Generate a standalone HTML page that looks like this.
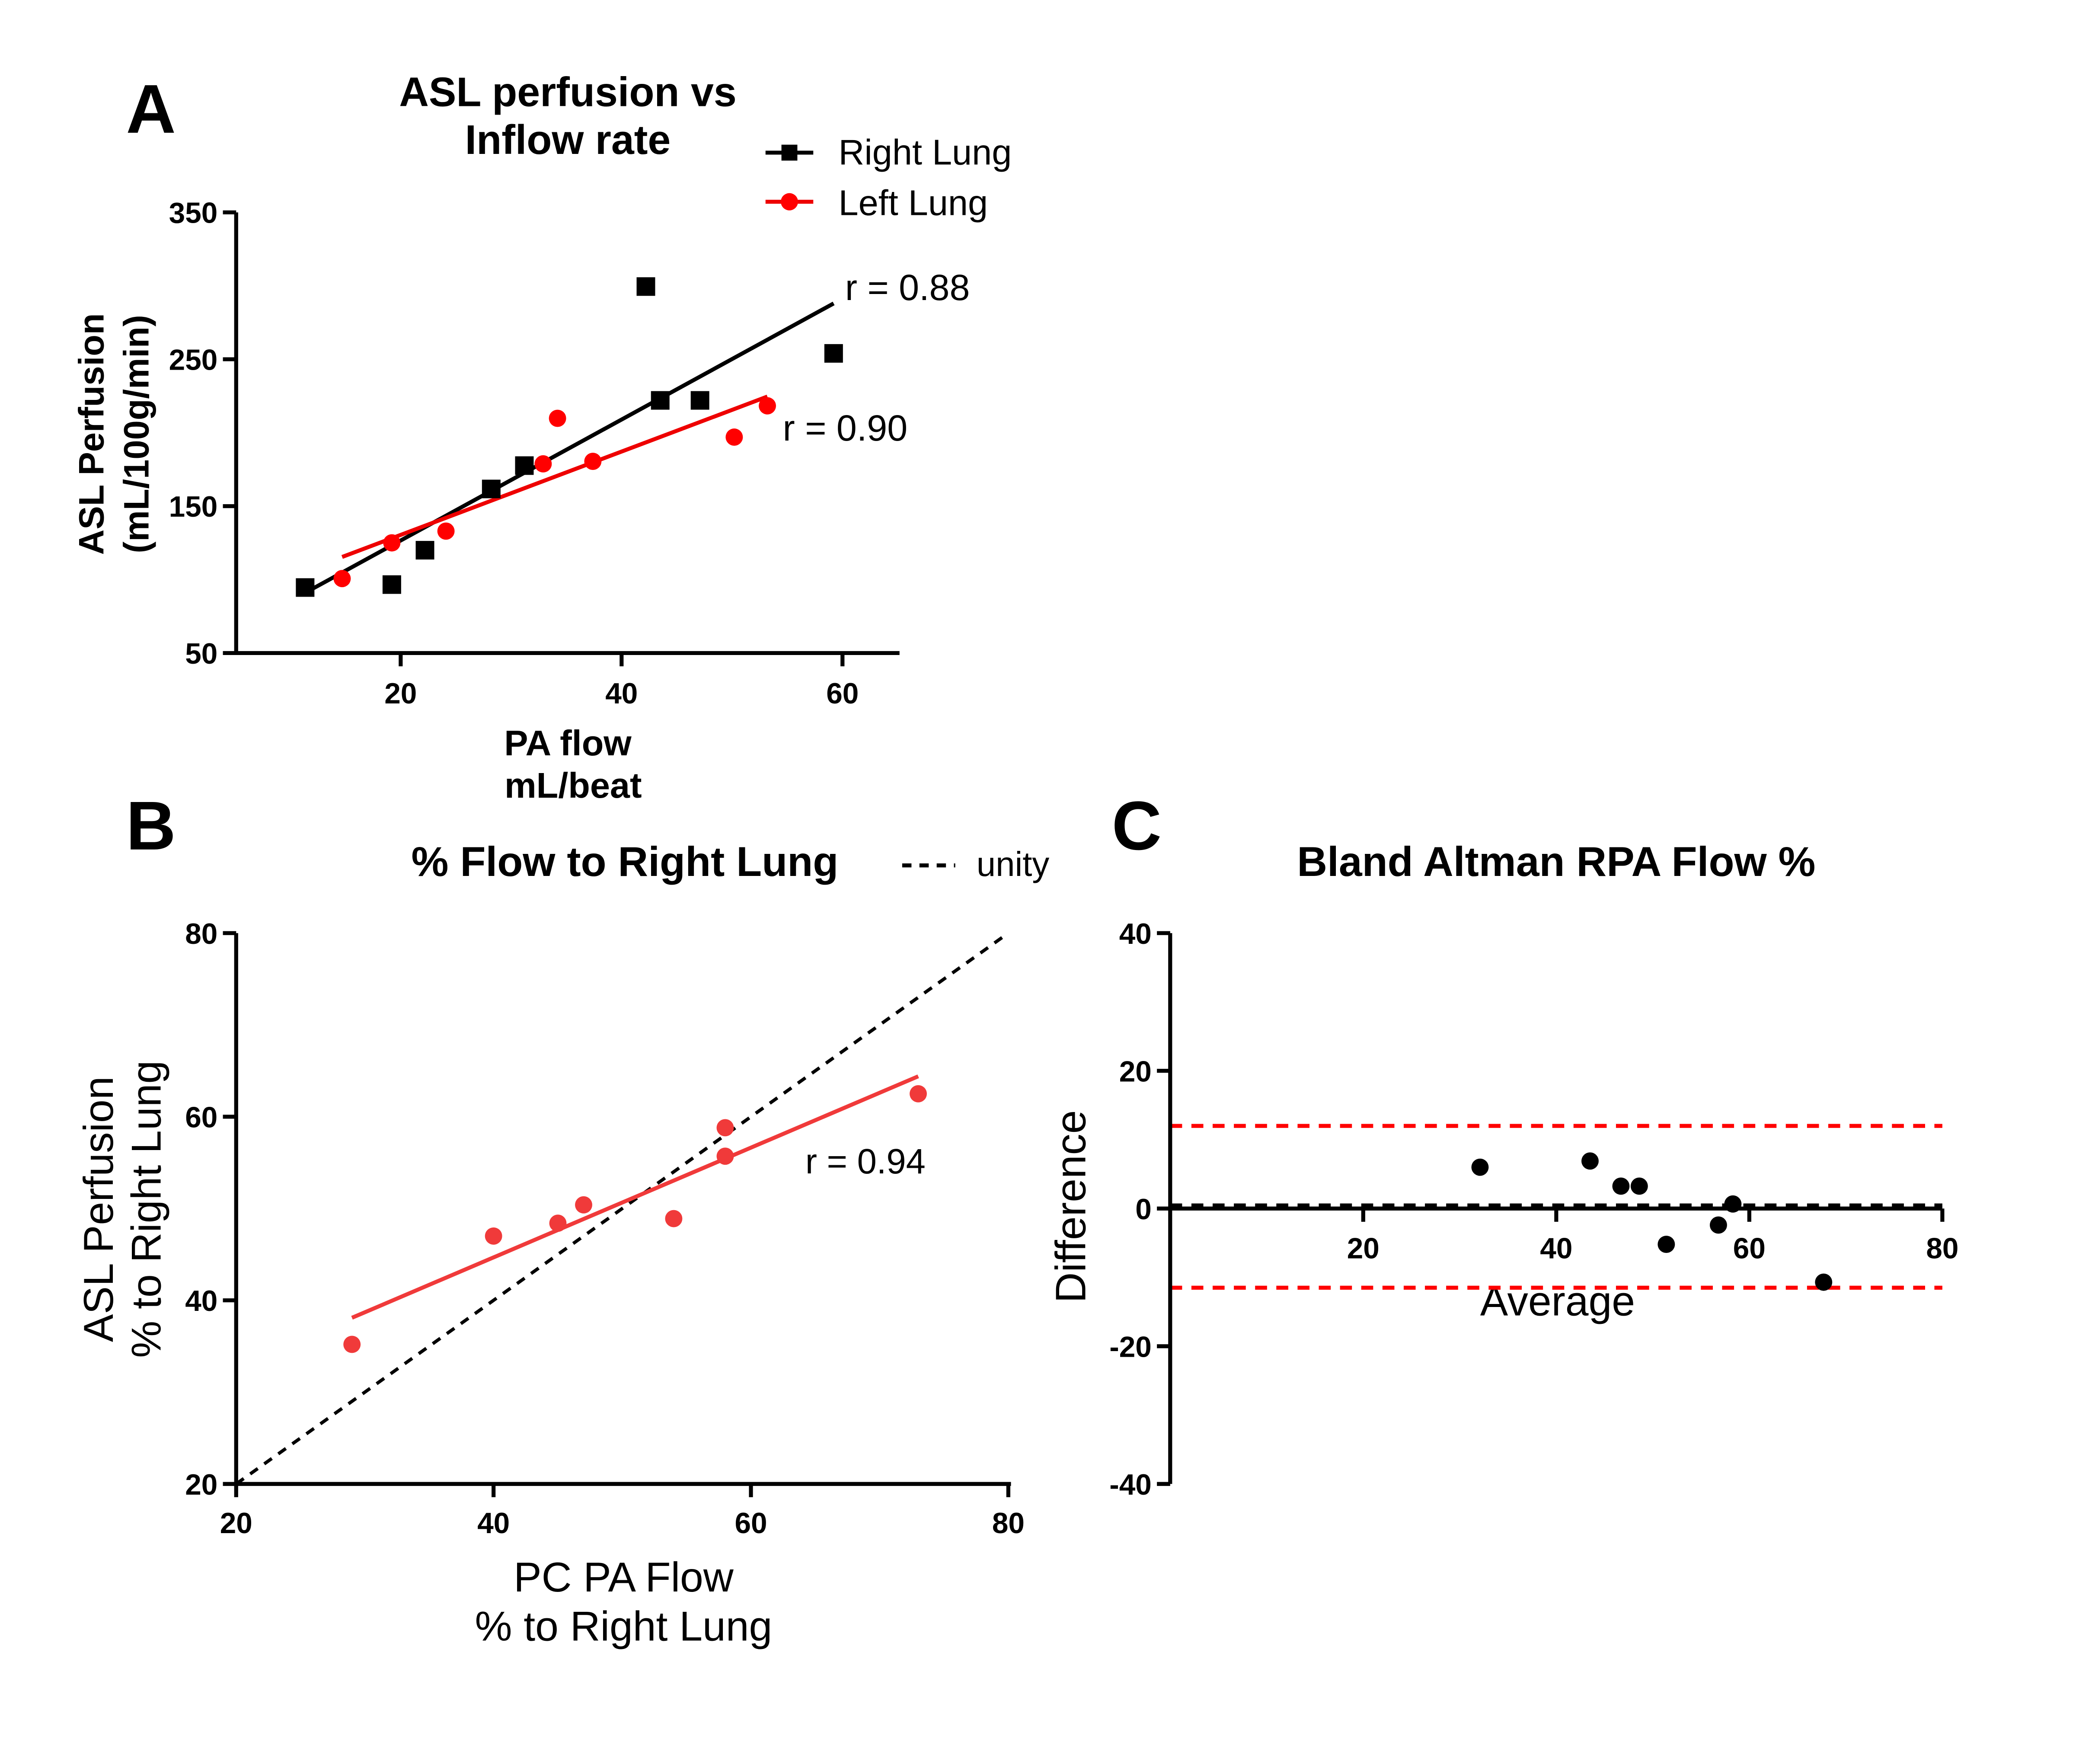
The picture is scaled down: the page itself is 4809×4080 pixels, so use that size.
<!DOCTYPE html>
<html><head><meta charset="utf-8"><style>
html,body{margin:0;padding:0;background:#fff;overflow:hidden;width:4809px;height:4080px}
svg{display:block}
text{font-family:"Liberation Sans",sans-serif}
.tk{font-weight:bold;font-size:22px}
</style></head><body>
<svg id="s" width="4809" height="4080" viewBox="0 0 1567 1329" preserveAspectRatio="none" overflow="hidden" xmlns="http://www.w3.org/2000/svg">
<rect width="1567" height="1329" fill="#fff"/>
<g id="A">
<text x="95" y="100" font-size="52" font-weight="bold">A</text>
<text x="428" y="80" font-size="31" font-weight="bold" text-anchor="middle">ASL perfusion vs</text>
<text x="428" y="116" font-size="31" font-weight="bold" text-anchor="middle">Inflow rate</text>
<g><line x1="577" y1="115" x2="613" y2="115" stroke="#000" stroke-width="3"/><rect x="589" y="109" width="12" height="12" fill="#000"/><text x="632" y="124" font-size="27">Right Lung</text></g>
<g><line x1="577" y1="152" x2="613" y2="152" stroke="#e00" stroke-width="3"/><circle cx="595" cy="152" r="6.5" fill="#f00"/><text x="632" y="162" font-size="27">Left Lung</text></g>
<text transform="translate(78,327) rotate(-90)" font-size="26.5" font-weight="bold" text-anchor="middle">ASL Perfusion</text>
<text transform="translate(112,327) rotate(-90)" font-size="26.5" font-weight="bold" text-anchor="middle">(mL/100g/min)</text>
<text x="428" y="569" font-size="27" font-weight="bold" text-anchor="middle">PA flow</text>
<text x="432" y="601" font-size="27" font-weight="bold" text-anchor="middle">mL/beat</text>
<text x="637" y="226" font-size="27.5">r = 0.88</text>
<text x="590" y="332" font-size="27.5">r = 0.90</text>
</g>
<g id="B">
<text x="95" y="640" font-size="52" font-weight="bold">B</text>
<text x="471" y="660" font-size="31.5" font-weight="bold" text-anchor="middle">% Flow to Right Lung</text>
<g><line x1="680" y1="652" x2="720" y2="652" stroke="#000" stroke-width="3" stroke-dasharray="7,6"/><text x="736" y="660" font-size="26">unity</text></g>
<text x="470" y="1199" font-size="31.5" text-anchor="middle">PC PA Flow</text>
<text x="470" y="1236" font-size="31.5" text-anchor="middle">% to Right  Lung</text>
<text transform="translate(85,911) rotate(-90)" font-size="31.5" text-anchor="middle">ASL Perfusion</text>
<text transform="translate(121,911) rotate(-90)" font-size="31.5" text-anchor="middle">% to Right Lung</text>
<text x="607" y="884" font-size="26.5">r = 0.94</text>
</g>
<g id="C">
<text x="838" y="640" font-size="52" font-weight="bold">C</text>
<text x="1173" y="660" font-size="31.5" font-weight="bold" text-anchor="middle">Bland Altman RPA Flow %</text>
<text transform="translate(818,909) rotate(-90)" font-size="32" text-anchor="middle">Difference</text>
<text x="1174" y="991" font-size="31.5" text-anchor="middle">Average</text>
</g>
</svg>
<script>
// Panel A data
const aRightX=[11.35,19.2,22.2,28.2,31.2,42.2,43.5,47.1,59.2];
const aRightY=[94.6,96.6,120,161.7,177.6,299.5,222,222,254];
const aLeftX=[14.7,19.2,24.1,32.9,34.2,37.4,50.2,53.2];
const aLeftY=[100.7,125,133,178.8,209.8,180.5,197,218.3];
const aRightFitX=[11.35,59.2];
const aRightFitY=[91,288];
const aLeftFitX=[14.7,53.2];
const aLeftFitY=[115.4,224.6];
const aXTicks=[20,40,60];
const aYTicks=[50,150,250,350];
// Panel B data
const bX=[29,40,45,47,54,58,58,73];
const bY=[35.2,47,48.4,50.4,48.9,58.8,55.7,62.5];
const bFitX=[29,73];
const bFitY=[38.1,64.4];
const bUnity=[20,80];
const bTicks=[20,40,60,80];
// Panel C data
const cX=[32.1,43.5,46.7,48.6,51.4,56.8,58.3,67.7];
const cY=[6.0,6.9,3.25,3.25,-5.2,-2.4,0.66,-10.7];
const cLimits=[12.0,-11.5];
const cBias=[0.25];
const cXTicks=[20,40,60,80];
const cYTicks=[-40,-20,0,20,40];

const NS='http://www.w3.org/2000/svg';
const svg=document.getElementById('s');
function mk(parent,tag,attrs){const e=document.createElementNS(NS,tag);for(const k in attrs)e.setAttribute(k,attrs[k]);parent.appendChild(e);return e;}
function lin(d0,d1,r0,r1){return v=>r0+(v-d0)*(r1-r0)/(d1-d0);}

// ---- Panel A ----
const gA=document.getElementById('A');
const ax=lin(20,60,302,635), ay=lin(50,350,492,160);
let e=mk(gA,'path',{d:`M178 160 V492 H678`,fill:'none',stroke:'#000','stroke-width':3});


aYTicks.forEach(t=>{mk(gA,'line',{x1:168,x2:178,y1:ay(t),y2:ay(t),stroke:'#000','stroke-width':3});
 const tx=mk(gA,'text',{x:164,y:ay(t)+8,class:'tk','text-anchor':'end'});tx.textContent=t;
 
 });
aXTicks.forEach(t=>{mk(gA,'line',{x1:ax(t),x2:ax(t),y1:492,y2:502,stroke:'#000','stroke-width':3});
 const tx=mk(gA,'text',{x:ax(t),y:530,class:'tk','text-anchor':'middle'});tx.textContent=t;
 
 });
e=mk(gA,'line',{x1:ax(aRightFitX[0]),y1:ay(aRightFitY[0]),x2:ax(aRightFitX[1]),y2:ay(aRightFitY[1]),stroke:'#000','stroke-width':3});


e=mk(gA,'line',{x1:ax(aLeftFitX[0]),y1:ay(aLeftFitY[0]),x2:ax(aLeftFitX[1]),y2:ay(aLeftFitY[1]),stroke:'#e00','stroke-width':3});


aRightX.forEach((x,i)=>{const r=mk(gA,'rect',{x:ax(x)-7,y:ay(aRightY[i])-7,width:14,height:14,fill:'#000'});
 
 });
aLeftX.forEach((x,i)=>{const c=mk(gA,'circle',{cx:ax(x),cy:ay(aLeftY[i]),r:6.5,fill:'#f00'});
 
 });

// ---- Panel B ----
const gB=document.getElementById('B');
const bx=lin(20,80,178,760), by=lin(20,80,1118,703);
e=mk(gB,'path',{d:`M178 703 V1118 H762`,fill:'none',stroke:'#000','stroke-width':3});


bTicks.forEach(t=>{mk(gB,'line',{x1:168,x2:178,y1:by(t),y2:by(t),stroke:'#000','stroke-width':3});
 let tx=mk(gB,'text',{x:164,y:by(t)+8,class:'tk','text-anchor':'end'});tx.textContent=t;
 
 
 mk(gB,'line',{x1:bx(t),x2:bx(t),y1:1118,y2:1128,stroke:'#000','stroke-width':3});
 tx=mk(gB,'text',{x:bx(t),y:1155,class:'tk','text-anchor':'middle'});tx.textContent=t;
 
 });
e=mk(gB,'line',{x1:bx(bUnity[0]),y1:by(bUnity[0]),x2:bx(bUnity[1]),y2:by(bUnity[1]),stroke:'#000','stroke-width':2.5,'stroke-dasharray':'7,6'});


e=mk(gB,'line',{x1:bx(bFitX[0]),y1:by(bFitY[0]),x2:bx(bFitX[1]),y2:by(bFitY[1]),stroke:'#f03a3a','stroke-width':3});


bX.forEach((x,i)=>{const c=mk(gB,'circle',{cx:bx(x),cy:by(bY[i]),r:6.5,fill:'#f03a3a'});
 
 });

// ---- Panel C ----
const gC=document.getElementById('C');
const cx=lin(0,80,882,1464), cy=lin(-40,40,1118,703);
cLimits.forEach(v=>{const l=mk(gC,'line',{x1:882,x2:1464,y1:cy(v),y2:cy(v),stroke:'#f00','stroke-width':3,'stroke-dasharray':'9,7'});
 
 });
cBias.forEach(v=>{const l=mk(gC,'line',{x1:882,x2:1464,y1:cy(v)-1,y2:cy(v)-1,stroke:'#000','stroke-width':3,'stroke-dasharray':'9,7'});
 
 });
e=mk(gC,'path',{d:`M882 703 V1118 M882 ${cy(0)} H1464`,fill:'none',stroke:'#000','stroke-width':3});


cYTicks.forEach(t=>{mk(gC,'line',{x1:872,x2:882,y1:cy(t),y2:cy(t),stroke:'#000','stroke-width':3});
 const tx=mk(gC,'text',{x:868,y:cy(t)+8,class:'tk','text-anchor':'end'});tx.textContent=t;
 
 });
cXTicks.forEach(t=>{mk(gC,'line',{x1:cx(t),x2:cx(t),y1:cy(0),y2:cy(0)+10,stroke:'#000','stroke-width':3});
 const tx=mk(gC,'text',{x:cx(t),y:948,class:'tk','text-anchor':'middle'});tx.textContent=t;
 
 });
cX.forEach((x,i)=>{const c=mk(gC,'circle',{cx:cx(x),cy:cy(cY[i]),r:6.5,fill:'#000'});
 
 });
</script>
</body></html>
